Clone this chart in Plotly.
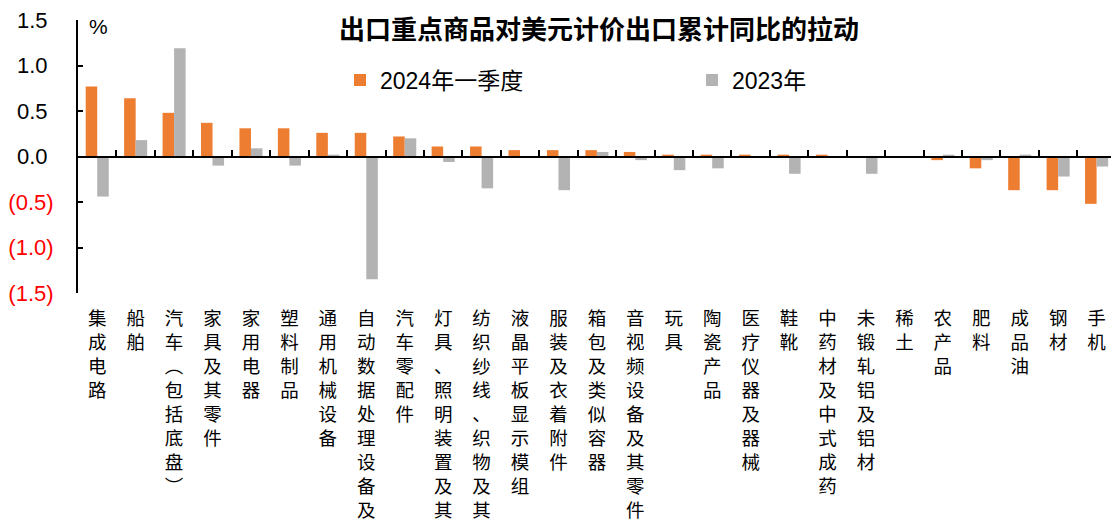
import plotly.graph_objects as go

categories = ["集成电路", "船舶", "汽车（包括底盘）", "家具及其零件", "家用电器", "塑料制品",
              "通用机械设备", "自动数据处理设备及", "汽车零配件", "灯具、照明装置及其",
              "纺织纱线、织物及其", "液晶平板显示模组", "服装及衣着附件", "箱包及类似容器",
              "音视频设备及其零件", "玩具", "陶瓷产品", "医疗仪器及器械", "鞋靴", "中药材及中式成药",
              "未锻轧铝及铝材", "稀土", "农产品", "肥料", "成品油", "钢材", "手机"]
q1_2024 = [0.77, 0.64, 0.48, 0.37, 0.31, 0.31, 0.26, 0.26, 0.22, 0.11, 0.11, 0.07, 0.07, 0.07,
           0.05, 0.02, 0.02, 0.02, 0.02, 0.02, 0.0, 0.0, -0.04, -0.13, -0.37, -0.37, -0.52]
y2023 = [-0.44, 0.18, 1.19, -0.10, 0.09, -0.10, 0.02, -1.35, 0.20, -0.06, -0.35, 0.0, -0.37, 0.05,
         -0.04, -0.15, -0.13, 0.0, -0.19, 0.0, -0.19, 0.0, 0.02, -0.04, 0.02, -0.22, -0.11]
series_names = ["2024年一季度", "2023年"]
y_tickvals = [-1.5, -1.0, -0.5, 0.0, 0.5, 1.0, 1.5]
y_ticktext = ["(1.5)", "(1.0)", "(0.5)", "0.0", "0.5", "1.0", "1.5"]
title_text = "出口重点商品对美元计价出口累计同比的拉动"
unit_text = "%"

ORANGE = "#ED7D31"
GRAY = "#B3B3B3"
CJK = "Noto Sans CJK SC"
LAT = "Liberation Sans, Noto Sans CJK SC"

vert_map = {"（": "︵", "）": "︶"}
cat_ticktext = ["<br>".join(vert_map.get(c, c) for c in name) for name in categories]

y_ticktext_fmt = []
for v, t in zip(y_tickvals, y_ticktext):
    if v < 0:
        y_ticktext_fmt.append('<span style="color:#FF0000">' + t + '</span>')
    else:
        y_ticktext_fmt.append(t + "\u00a0")

n = len(categories)
xr = [-0.5, n - 0.625]

fig = go.Figure()
fig.add_trace(go.Bar(x=categories, y=q1_2024, name=series_names[0], marker_color=ORANGE,
                     marker_line_width=0, legend="legend"))
fig.add_trace(go.Bar(x=categories, y=y2023, name=series_names[1], marker_color=GRAY,
                     marker_line_width=0, legend="legend2"))
# carrier for the zero-line axis with boundary ticks
fig.add_trace(go.Scatter(x=[0], y=[0], xaxis="x2", yaxis="y", mode="markers",
                         marker=dict(opacity=0, size=1), showlegend=False, hoverinfo="skip"))

fig.update_layout(
    width=1111, height=527,
    margin=dict(l=78, r=0, t=20, b=234, autoexpand=False),
    paper_bgcolor="white", plot_bgcolor="white",
    barmode="group", bargap=0.4, bargroupgap=0,
    title=dict(text=title_text, x=599 / 1111, xref="container", xanchor="center",
               y=1 - 30 / 527, yref="container", yanchor="middle",
               font=dict(family=CJK, size=26, color="black", weight="bold")),
    xaxis=dict(type="category", range=xr, tickvals=categories, ticktext=cat_ticktext,
               tickangle=0, ticks="", showline=False, showgrid=False, zeroline=False,
               tickfont=dict(family=CJK, size=18.5, color="black"), ticklabelstandoff=12,
               automargin=False),
    xaxis2=dict(overlaying="x", anchor="free", position=0.5, range=xr, type="linear",
                tickvals=[i + 0.5 for i in range(n)], ticks="inside", ticklen=6, tickwidth=2,
                tickcolor="black", showticklabels=False, showline=True, linecolor="black",
                linewidth=2, showgrid=False, zeroline=False),
    yaxis=dict(range=[-1.5, 1.5], tickvals=y_tickvals, ticktext=y_ticktext_fmt,
               ticks="inside", ticklen=5, tickwidth=2, tickcolor="black",
               showline=True, linecolor="black", linewidth=2, showgrid=False, zeroline=False,
               tickfont=dict(family=LAT, size=22, color="black"), ticklabelstandoff=18,
               automargin=False),
    legend=dict(orientation="h", x=(340 - 78) / 1033, xanchor="left", y=1 - (80 - 20) / 273,
                yanchor="middle", font=dict(family=LAT, size=23, color="black"),
                bgcolor="rgba(0,0,0,0)"),
    legend2=dict(orientation="h", x=(692 - 78) / 1033, xanchor="left", y=1 - (80 - 20) / 273,
                 yanchor="middle", font=dict(family=LAT, size=23, color="black"),
                 bgcolor="rgba(0,0,0,0)"),
    annotations=[dict(text=unit_text, xref="paper", yref="paper", x=(98 - 78) / 1033,
                      y=1 - (26 - 20) / 273, xanchor="center", yanchor="middle",
                      showarrow=False, font=dict(family=LAT, size=21, color="black"))],
    showlegend=True,
)

fig.write_html("out.html")
